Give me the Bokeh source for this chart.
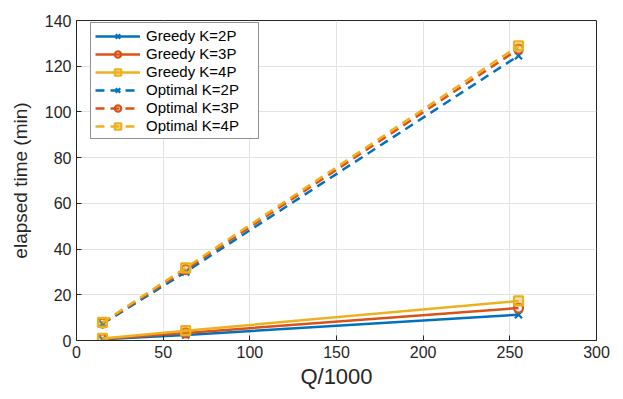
from bokeh.plotting import figure
from bokeh.embed import file_html
from bokeh.resources import INLINE
from bokeh.models import Range1d, FixedTicker, Legend

q = [15, 63, 255]
greedy_2p = [0.5, 2.4, 11.3]
greedy_3p = [0.7, 3.3, 14.2]
greedy_4p = [0.9, 4.3, 17.3]
optimal_2p = [7.3, 30.0, 124.6]
optimal_3p = [7.6, 31.0, 127.5]
optimal_4p = [7.9, 31.8, 128.9]
x_ticks = [0, 50, 100, 150, 200, 250, 300]
y_ticks = [0, 20, 40, 60, 80, 100, 120, 140]

blue, red, yellow = "#0072BD", "#D95319", "#EDB120"
FONT = "Liberation Sans"

p = figure(width=615, height=391, output_backend="svg", toolbar_location=None,
           x_range=Range1d(0, 300), y_range=Range1d(0, 140),
           min_border_left=76, min_border_right=19, min_border_top=20, min_border_bottom=49)
p.background_fill_color = "white"
p.border_fill_color = "white"
p.outline_line_color = "#262626"
p.outline_line_width = 1

for ax in (p.xaxis[0], p.yaxis[0]):
    ax.major_label_text_font = FONT
    ax.major_label_text_font_size = "16px"
    ax.major_label_text_color = "#262626"
    ax.axis_label_text_font = FONT
    ax.axis_label_text_font_style = "normal"
    ax.axis_label_text_color = "#262626"
    ax.axis_line_color = "#262626"
    ax.major_tick_line_color = "#262626"
    ax.major_tick_in = 5
    ax.major_tick_out = 0
    ax.minor_tick_line_color = None
    ax.major_label_standoff = 5
p.xaxis.ticker = FixedTicker(ticks=x_ticks)
p.yaxis.ticker = FixedTicker(ticks=y_ticks)
p.xaxis.axis_label = "Q/1000"
p.xaxis.axis_label_text_font_size = "22px"
p.xaxis.axis_label_standoff = 3
p.yaxis.axis_label = "elapsed time (min)"
p.yaxis.axis_label_text_font_size = "19px"
p.yaxis.axis_label_standoff = 11
p.xgrid.grid_line_color = "#e3e3e3"
p.ygrid.grid_line_color = "#e3e3e3"
p.xgrid.ticker = FixedTicker(ticks=x_ticks)
p.ygrid.ticker = FixedTicker(ticks=y_ticks)

items = []
series = [
    ("Greedy K=2P", greedy_2p, blue, "x", "solid"),
    ("Greedy K=3P", greedy_3p, red, "circle", "solid"),
    ("Greedy K=4P", greedy_4p, yellow, "square", "solid"),
    ("Optimal K=2P", optimal_2p, blue, "x", "dashed"),
    ("Optimal K=3P", optimal_3p, red, "circle", "dashed"),
    ("Optimal K=4P", optimal_4p, yellow, "square", "dashed"),
]
for label, ys, c, m, dash in series:
    dash_s = "solid" if dash == "solid" else "9 6"
    r1 = p.line(q, ys, line_color=c, line_width=2.5, line_dash=dash_s)
    r2 = p.scatter(q, ys, marker=m, size=10 if m == "x" else 9, line_color=c, line_width=2.2,
                   fill_color=c, fill_alpha=0.35 if m == "square" else 0.0)
    items.append((label, [r1, r2]))

legend = Legend(items=items, location=(14, 201))
legend.label_text_font = FONT
legend.label_text_font_size = "15px"
legend.label_text_color = "#000000"
legend.border_line_color = "#262626"
legend.border_line_width = 1
legend.background_fill_color = "white"
legend.background_fill_alpha = 1
legend.glyph_width = 45
legend.glyph_height = 16
legend.label_height = 16
legend.label_width = 108
legend.spacing = 1
legend.padding = 4
legend.margin = 0
legend.label_standoff = 6
legend.label_text_line_height = 1.0
p.add_layout(legend, "center")

open("out.html", "w").write(file_html(p, INLINE))
